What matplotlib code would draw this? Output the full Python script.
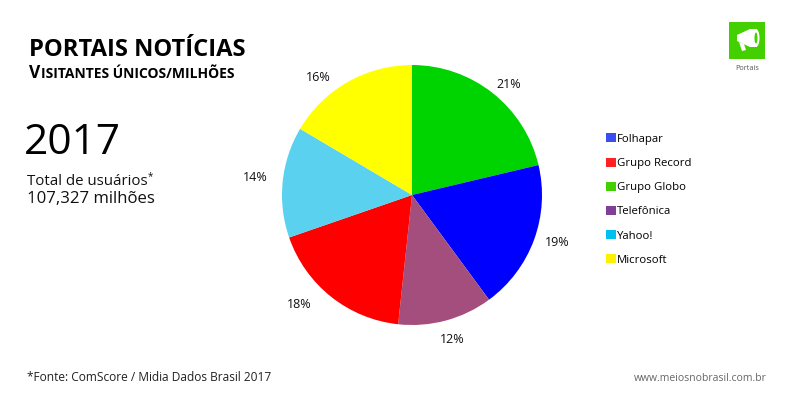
import matplotlib
matplotlib.use("Agg")
import matplotlib.pyplot as plt
from matplotlib.patches import Rectangle, Polygon, Ellipse

W, H = 786, 396
FONT = "Open Sans"

# Data (clockwise from the top, as drawn)
slice_names = ["Grupo Globo", "Folhapar", "Telefônica", "Grupo Record", "Yahoo!", "Microsoft"]
slice_values = [21.3, 18.6, 11.8, 18.0, 13.8, 16.5]
slice_colors = ["#00D400", "#0000FF", "#A34E7C", "#FF0000", "#5AD1EE", "#FFFF00"]
legend_names = ["Folhapar", "Grupo Record", "Grupo Globo", "Telefônica", "Yahoo!", "Microsoft"]
legend_colors = ["#3B4CF0", "#FF2020", "#44D000", "#7F3F98", "#00C0F0", "#FFF000"]

fig = plt.figure(figsize=(W / 100, H / 100), dpi=100, facecolor="white")


def T(x, y, s, size, **kw):
    kw.setdefault("family", FONT)
    kw.setdefault("color", "#111111")
    kw.setdefault("va", "baseline")
    return fig.text(x / W, 1 - y / H, s, fontsize=size, **kw)


# Pie
ax = fig.add_axes([282 / W, 1 - 325 / H, 260 / W, 260 / H])
wedges, _, pcts = ax.pie(
    slice_values, colors=slice_colors, startangle=90, counterclock=False, radius=1.0,
    autopct="%.0f%%", pctdistance=1.15, labels=None,
    wedgeprops=dict(linewidth=0),
    textprops=dict(family=FONT, fontsize=9, color="#111111"),
)
ax.set_xlim(-1, 1)
ax.set_ylim(-1, 1)
ax.set_aspect("equal")
# label nudges in pixels (right, down), as placed in the reference
label_nudges = [(4, 7), (5, -4), (1, 0), (-20, -7), (-8, -2), (-20, 12)]
for t, (dx, dy) in zip(pcts, label_nudges):
    x, y = t.get_position()
    t.set_position((x + dx / 130, y - dy / 130))
    t.set_clip_on(False)

# Titles
T(29, 56, "PORTAIS NOTÍCIAS", 17.1, fontweight="bold", color="black")
fig.canvas.draw()
r = fig.canvas.get_renderer()
a = T(29, 78, "V", 12.5, fontweight="bold", color="black")
xpos = 29 + a.get_window_extent(r).width + 0.5
T(xpos, 78, "ISITANTES ÚNICOS/MILHÕES", 10, fontweight="bold", color="black")

T(24, 154, "2017", 30.5, color="black")
T(27, 185, "Total de usuários", 10.8)
T(148, 179, "*", 7)
T(27, 203, "107,327 milhões", 12.1)

# Legend
handles = [Rectangle((0, 0), 1, 1, facecolor=c, edgecolor="none") for c in legend_colors]
fig.legend(
    handles, legend_names, loc="upper left", bbox_to_anchor=(603 / W, 1 - 130 / H),
    frameon=False, handlelength=0.85, handleheight=0.85, handletextpad=0.05,
    labelspacing=1.115, borderpad=0.3, borderaxespad=0,
    prop=dict(family=FONT, size=8.2),
)

# Footer
T(27, 381, "*Fonte: ComScore / Midia Dados Brasil 2017", 8.55, color="#222222")
T(767, 381, "www.meiosnobrasil.com.br", 7.5, color="#666666", ha="right")

# Icon
icon = fig.add_axes([729 / W, 1 - 59 / H, 36 / W, 37 / H])
icon.set_xlim(729, 765)
icon.set_ylim(59, 22)
icon.axis("off")
icon.add_patch(Rectangle((729, 22), 36, 37, facecolor="#44D000", edgecolor="none"))
icon.add_patch(Polygon([(737, 35), (750, 29), (757, 29), (757, 47), (750, 47), (737, 41)],
                       facecolor="white", edgecolor="none"))
icon.add_patch(Polygon([(739, 42), (744, 44), (746, 50), (742, 51)],
                       facecolor="white", edgecolor="none"))
icon.add_patch(Ellipse((756, 38), 7, 18, facecolor="white", edgecolor="none"))
icon.add_patch(Ellipse((756, 38), 3, 11, facecolor="#44D000", edgecolor="none"))
T(747, 70, "Portais", 5.2, ha="center", color="#555555")

fig.savefig("out.png", dpi=100, facecolor="white")
